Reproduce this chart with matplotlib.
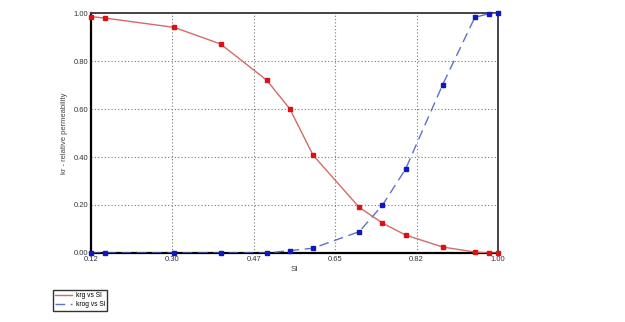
import matplotlib
matplotlib.use("Agg")
import matplotlib.pyplot as plt

# liquid saturation and relative permeabilities
sl = [0.12, 0.15, 0.30, 0.40, 0.50, 0.55, 0.60, 0.70, 0.75, 0.80, 0.88, 0.95, 0.98, 1.00]
krg = [0.985, 0.979, 0.94, 0.871, 0.72, 0.60, 0.408, 0.19, 0.125, 0.075, 0.025, 0.004, 0.0, 0.0]
krog = [0.0, 0.0, 0.0, 0.0, 0.0, 0.01, 0.02, 0.089, 0.199, 0.349, 0.70, 0.982, 0.997, 1.0]

xticks = [0.12, 0.296, 0.472, 0.648, 0.824, 1.00]
xtick_labels = ["0.12", "0.30", "0.47", "0.65", "0.82", "1.00"]
yticks = [0.0, 0.2, 0.4, 0.6, 0.8, 1.0]

plt.rcParams['font.family'] = ['Liberation Sans', 'DejaVu Sans']

fig = plt.figure(figsize=(6.25, 3.22), dpi=100, facecolor='white')
ax = fig.add_axes([0.1456, 0.2143, 0.6512, 0.7453])

l1, = ax.plot(sl, krg, color='#d46a6a', linewidth=1.0, zorder=3, label='krg vs Sl')
ax.plot(sl, krg, linestyle='none', marker='s', markersize=3.0, color='#dd1111', zorder=4, clip_on=False)
l2, = ax.plot(sl, krog, color='#6070c8', linewidth=1.0, dashes=(7, 4), zorder=3, label='krog vs Sl')
ax.plot(sl, krog, linestyle='none', marker='s', markersize=3.0, color='#1018c0', zorder=4, clip_on=False)

ax.set_xlim(0.12, 1.0)
ax.set_ylim(0.0, 1.0)
ax.set_xticks(xticks)
ax.set_xticklabels(xtick_labels)
ax.set_yticks(yticks)
ax.set_yticklabels([f"{v:.2f}" for v in yticks])
ax.tick_params(length=0, labelsize=5.5, colors='#333333', pad=2)
ax.grid(True, linestyle=(0, (1, 2)), color='#777777', linewidth=0.8)

for side in ['left', 'bottom']:
    ax.spines[side].set_linewidth(1.6)
    ax.spines[side].set_color('black')
for side in ['top', 'right']:
    ax.spines[side].set_linewidth(1.4)
    ax.spines[side].set_color('#444444')

ax.set_xlabel('Sl', fontsize=6, color='#444444', labelpad=2)
ax.set_ylabel('kr - relative permeability', fontsize=5.5, color='#444444', labelpad=4)

leg = fig.legend(handles=[l1, l2], loc='lower left', bbox_to_anchor=(0.084, 0.035),
                 prop={'family': ['Liberation Sans Narrow', 'Liberation Sans'], 'size': 4.8},
                 frameon=True, fancybox=False, handlelength=2.6,
                 borderpad=0.35, labelspacing=0.35, handletextpad=0.5, borderaxespad=0)
leg.get_frame().set_edgecolor('black')
leg.get_frame().set_linewidth(1.0)

fig.savefig('out.png', dpi=100)
